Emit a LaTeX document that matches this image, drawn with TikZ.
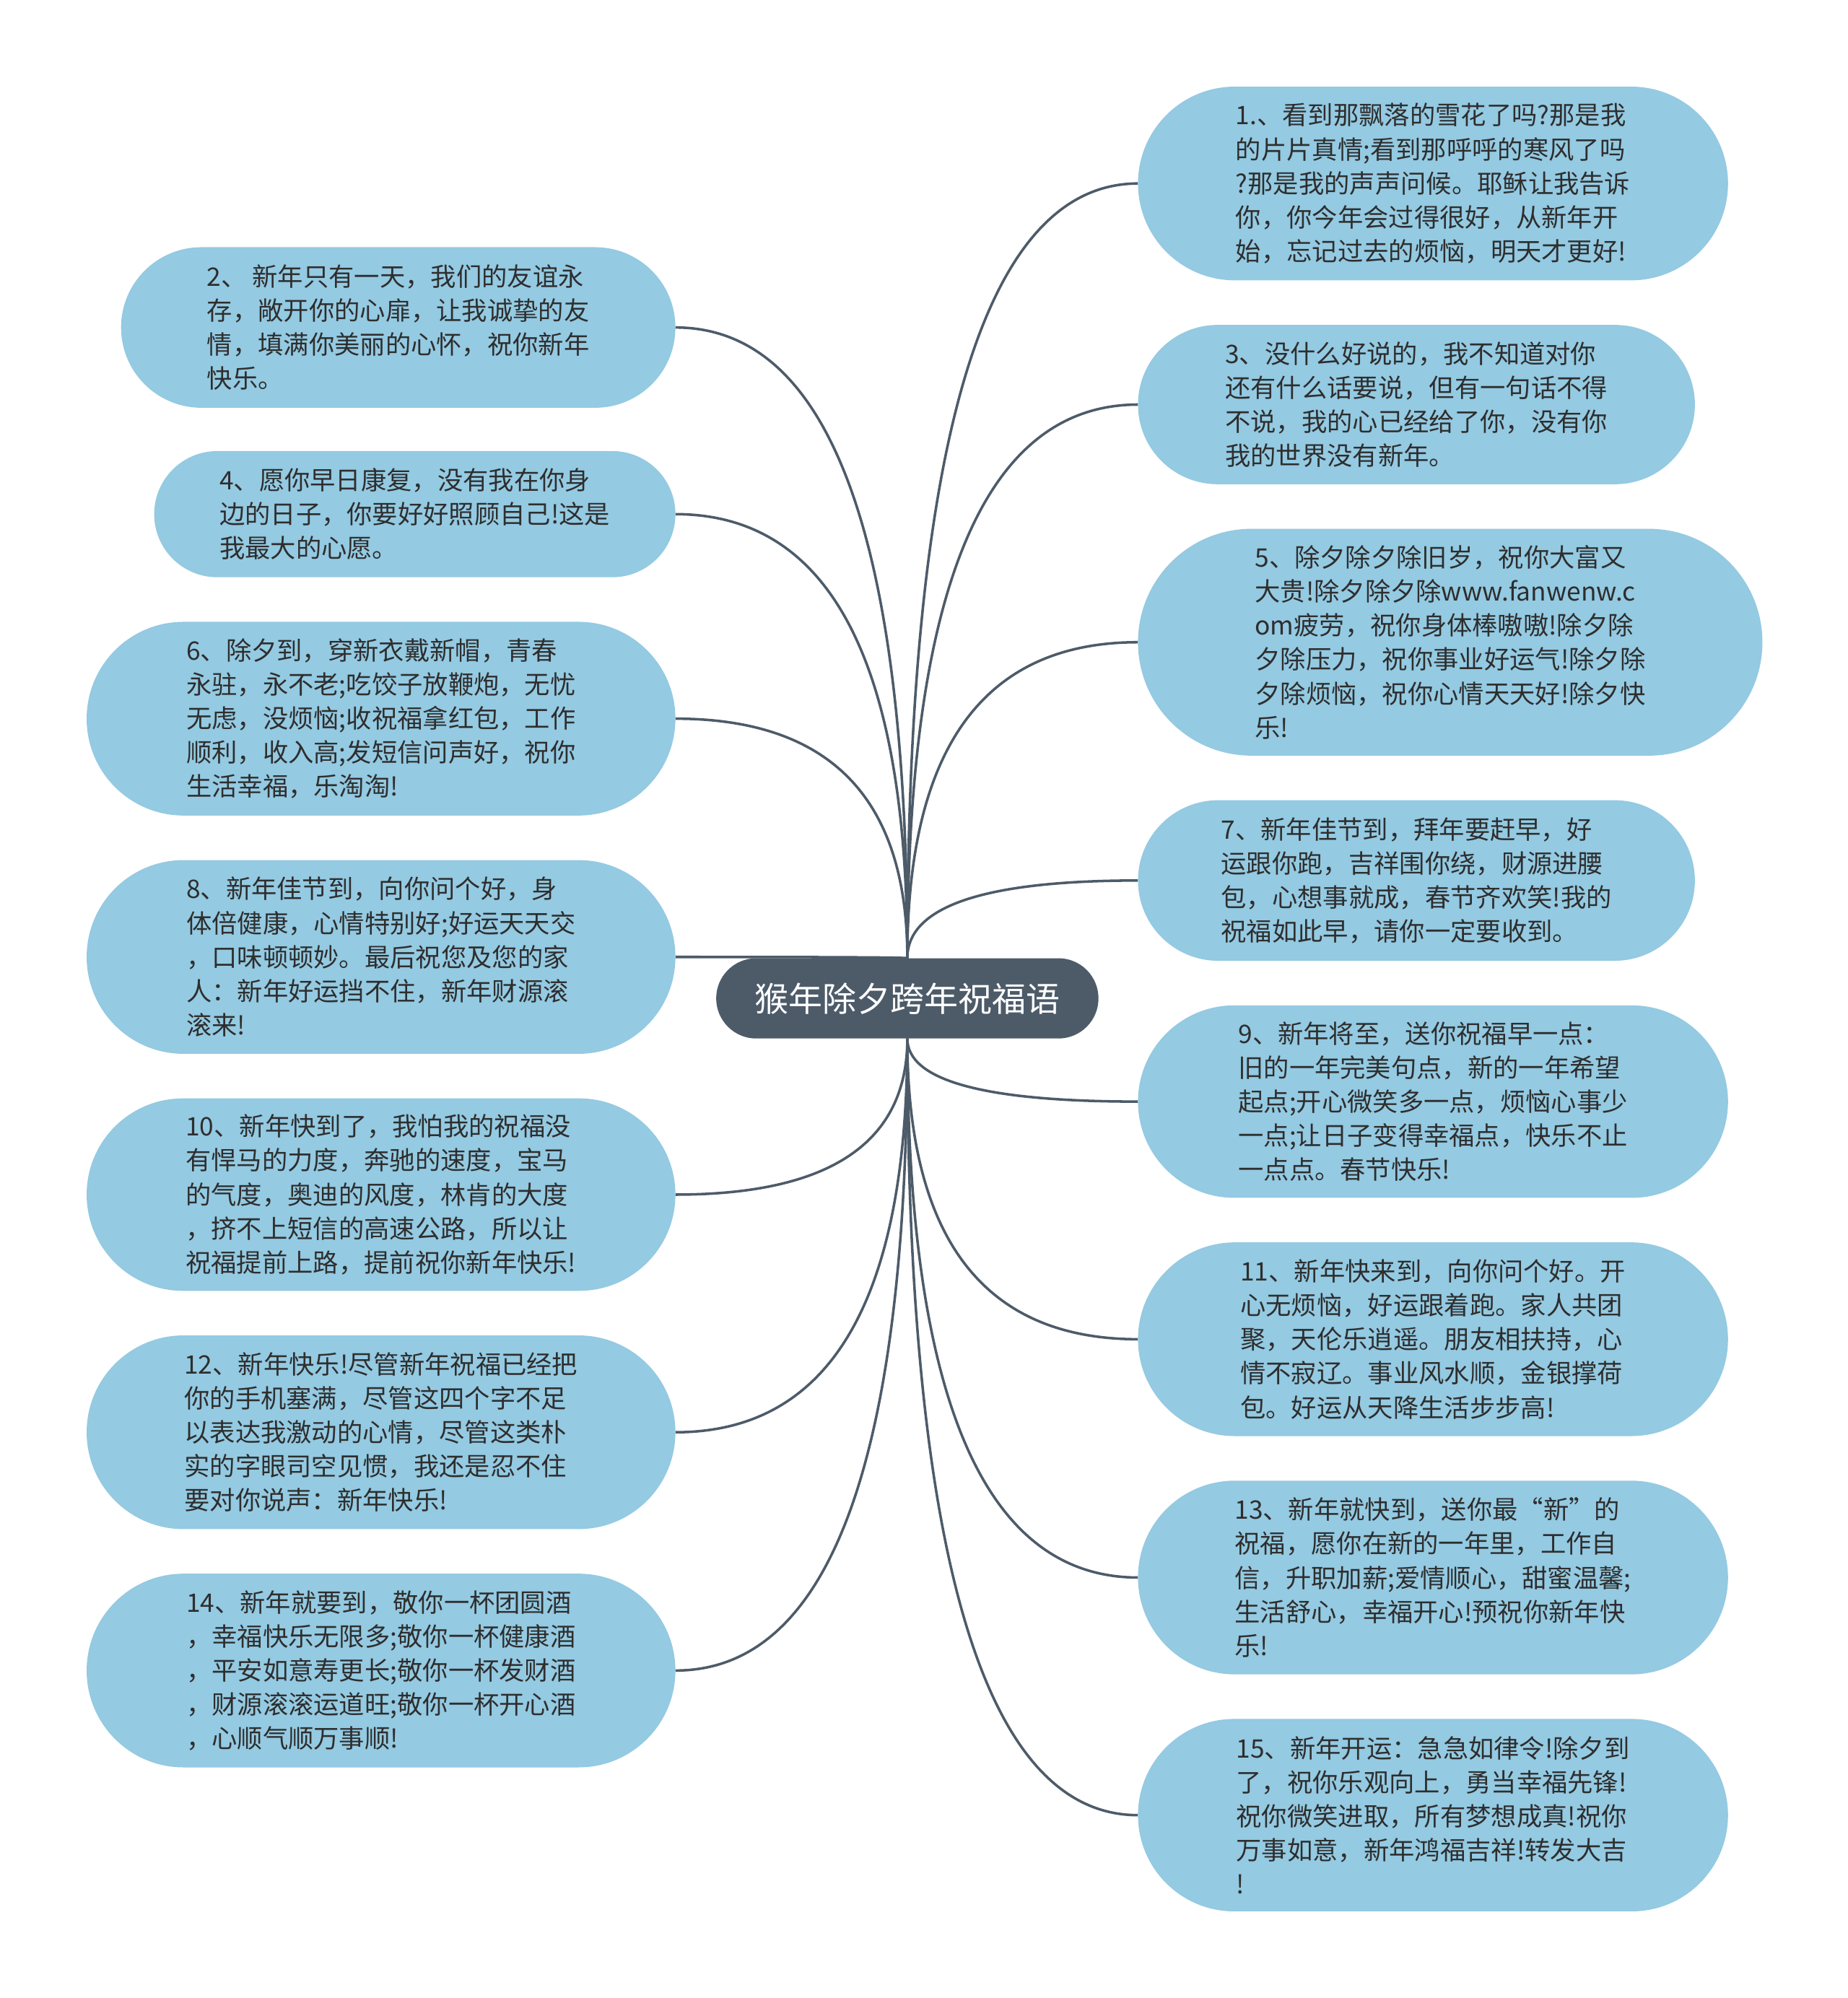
\documentclass[tikz,border=0pt]{standalone}
\usepackage{fontspec}
\setmainfont{Noto Sans CJK SC}
\usetikzlibrary{shapes.misc,backgrounds,calc}
\definecolor{slate}{HTML}{4D5B69}
\definecolor{sky}{HTML}{94CAE2}
\definecolor{ink}{HTML}{2E2E2E}
\tikzstyle{every node}=[inner sep=0pt, outer sep=0pt]
\tikzstyle{topic}=[rounded rectangle, fill=slate, text=white, font={\fontsize{13.3}{16}\selectfont}, minimum width=150pt, minimum height=31.5pt]
\tikzstyle{wish}=[rounded rectangle, fill=sky, text=ink, align=left, font={\fontsize{10}{13.35}\selectfont}]
\tikzstyle{branch}=[draw=slate, line width=1pt, to path={.. controls ($(\tikztostart)!0.667!(\tikztostart |- \tikztotarget)$) and ($(\tikztotarget)!0.667!(\tikztostart |- \tikztotarget)$) .. (\tikztotarget)}]

\begin{document}
\begin{tikzpicture}[x=0.5pt, y=-0.5pt]
    \useasboundingbox (0,0) rectangle (1450,1568);

    \node [topic] (root) at (712,783.5) {猴年除夕跨年祝福语};

    \node [wish, minimum width=231.5pt, minimum height=76pt] (n1) at (1124.5,144)
        {1.、看到那飘落的雪花了吗?那是我\\的片片真情;看到那呼呼的寒风了吗\\?那是我的声声问候。耶稣让我告诉\\你，你今年会过得很好，从新年开\\始，忘记过去的烦恼，明天才更好!};
    \node [wish, minimum width=218.5pt, minimum height=62.5pt] (n3) at (1111.5,317.5)
        {3、没什么好说的，我不知道对你\\还有什么话要说，但有一句话不得\\不说，我的心已经给了你，没有你\\我的世界没有新年。};
    \node [wish, minimum width=245pt, minimum height=89pt] (n5) at (1138,504)
        {5、除夕除夕除旧岁，祝你大富又\\大贵!除夕除夕除www.fanwenw.c\\om疲劳，祝你身体棒嗷嗷!除夕除\\夕除压力，祝你事业好运气!除夕除\\夕除烦恼，祝你心情天天好!除夕快\\乐!};
    \node [wish, minimum width=218.5pt, minimum height=63pt] (n7) at (1111.5,691)
        {7、新年佳节到，拜年要赶早，好\\运跟你跑，吉祥围你绕，财源进腰\\包，心想事就成，春节齐欢笑!我的\\祝福如此早，请你一定要收到。};
    \node [wish, minimum width=231.5pt, minimum height=75.5pt] (n9) at (1124.5,864.5)
        {9、新年将至，送你祝福早一点：\\旧的一年完美句点，新的一年希望\\起点;开心微笑多一点，烦恼心事少\\一点;让日子变得幸福点，快乐不止\\一点点。春节快乐!};
    \node [wish, minimum width=231.5pt, minimum height=76pt] (n11) at (1124.5,1051)
        {11、新年快来到，向你问个好。开\\心无烦恼，好运跟着跑。家人共团\\聚，天伦乐逍遥。朋友相扶持，心\\情不寂辽。事业风水顺，金银撑荷\\包。好运从天降生活步步高!};
    \node [wish, minimum width=231.5pt, minimum height=76pt] (n13) at (1124.5,1238)
        {13、新年就快到，送你最“新”的\\祝福，愿你在新的一年里，工作自\\信，升职加薪;爱情顺心，甜蜜温馨;\\生活舒心，幸福开心!预祝你新年快\\乐!};
    \node [wish, minimum width=231.5pt, minimum height=75.5pt] (n15) at (1124.5,1424.5)
        {15、新年开运：急急如律令!除夕到\\了，祝你乐观向上，勇当幸福先锋!\\祝你微笑进取，所有梦想成真!祝你\\万事如意，新年鸿福吉祥!转发大吉\\!};

    \node [wish, minimum width=217.5pt, minimum height=63pt] (n2) at (312.5,257)
        {2、 新年只有一天，我们的友谊永\\存，敞开你的心扉，让我诚挚的友\\情，填满你美丽的心怀，祝你新年\\快乐。};
    \node [wish, minimum width=204.5pt, minimum height=49.5pt] (n4) at (325.5,403.5)
        {4、愿你早日康复，没有我在你身\\边的日子，你要好好照顾自己!这是\\我最大的心愿。};
    \node [wish, minimum width=231pt, minimum height=76pt] (n6) at (299,564)
        {6、除夕到，穿新衣戴新帽，青春\\永驻，永不老;吃饺子放鞭炮，无忧\\无虑，没烦恼;收祝福拿红包，工作\\顺利，收入高;发短信问声好，祝你\\生活幸福，乐淘淘!};
    \node [wish, minimum width=231pt, minimum height=76pt] (n8) at (299,751)
        {8、新年佳节到，向你问个好，身\\体倍健康，心情特别好;好运天天交\\，口味顿顿妙。最后祝您及您的家\\人：新年好运挡不住，新年财源滚\\滚来!};
    \node [wish, minimum width=231pt, minimum height=75.5pt] (n10) at (299,937.5)
        {10、新年快到了，我怕我的祝福没\\有悍马的力度，奔驰的速度，宝马\\的气度，奥迪的风度，林肯的大度\\，挤不上短信的高速公路，所以让\\祝福提前上路，提前祝你新年快乐!};
    \node [wish, minimum width=231pt, minimum height=76pt] (n12) at (299,1124)
        {12、新年快乐!尽管新年祝福已经把\\你的手机塞满，尽管这四个字不足\\以表达我激动的心情，尽管这类朴\\实的字眼司空见惯，我还是忍不住\\要对你说声：新年快乐!};
    \node [wish, minimum width=231pt, minimum height=76pt] (n14) at (299,1311)
        {14、新年就要到，敬你一杯团圆酒\\，幸福快乐无限多;敬你一杯健康酒\\，平安如意寿更长;敬你一杯发财酒\\，财源滚滚运道旺;敬你一杯开心酒\\，心顺气顺万事顺!};

    \begin{scope}[on background layer]
        \fill [white] (0,0) rectangle (1450,1568);
        \draw [branch] (root.north) to (n1.west);
        \draw [branch] (root.north) to (n3.west);
        \draw [branch] (root.north) to (n5.west);
        \draw [branch] (root.north) to (n7.west);
        \draw [branch] (root.south) to (n9.west);
        \draw [branch] (root.south) to (n11.west);
        \draw [branch] (root.south) to (n13.west);
        \draw [branch] (root.south) to (n15.west);
        \draw [branch] (root.north) to (n2.east);
        \draw [branch] (root.north) to (n4.east);
        \draw [branch] (root.north) to (n6.east);
        \draw [branch] (root.north) to (n8.east);
        \draw [branch] (root.south) to (n10.east);
        \draw [branch] (root.south) to (n12.east);
        \draw [branch] (root.south) to (n14.east);
    \end{scope}
\end{tikzpicture}
\end{document}
